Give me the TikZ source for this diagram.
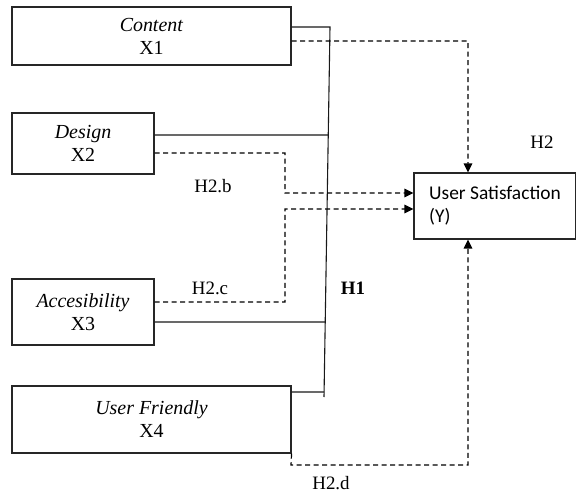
\documentclass[tikz,border=0pt]{standalone}
\usepackage{fontspec}
\setmainfont{Liberation Serif}
\newfontfamily\calib{Carlito}
\usetikzlibrary{arrows.meta,calc}
\begin{document}
\begin{tikzpicture}[x=1bp,y=-1bp,
  boxnode/.style={draw=black!85,line width=1.1bp,inner sep=0pt,align=center,font=\fontsize{20}{23}\selectfont},
  solidline/.style={draw=black!90,line width=1.1bp},
  dashline/.style={draw=black,line width=1.2bp,dash pattern=on 5bp off 3.5bp},
  arr/.style={-{Triangle[length=9bp,width=8.5bp]}},
  lbl/.style={font=\fontsize{19}{22}\selectfont,inner sep=0pt}]
\useasboundingbox (0,0) rectangle (576,495);
\node[boxnode,minimum width=279bp,minimum height=58bp] (content) at (151.5,36) {\textit{Content}\\X1};
\node[boxnode,minimum width=142bp,minimum height=61bp] (design) at (83,143.5) {\textit{Design}\\X2};
\node[boxnode,minimum width=142bp,minimum height=66bp] (acc) at (83,312) {\textit{Accesibility}\\X3};
\node[boxnode,minimum width=279bp,minimum height=67bp] (uf) at (151.5,419.5) {\textit{User Friendly}\\X4};
\node[boxnode,align=left,minimum width=162bp,minimum height=66bp,font=\calib\fontsize{19.5}{23}\selectfont] (us) at (495,206) {User Satisfaction\\(Y)\hspace*{3.2em}};
% bus line
\coordinate (bt) at (330,27);
\coordinate (bb) at (324,397);
\coordinate (b2) at (328.2,135);
\coordinate (b3) at (325.2,322);
\coordinate (b4) at (324.1,392);
\draw[solidline] ([yshift=9bp]content.east) -- (bt) -- (bb);
\draw[solidline] ([yshift=8.5bp]design.east) -- (b2);
\draw[solidline] ([yshift=-10bp]acc.east) -- (b3);
\draw[solidline] ([yshift=27.5bp]uf.east) -- (b4);
% dashed arrows
\coordinate (d1) at (468,41);
\draw[dashline,arr] ([yshift=-5bp]content.east) -- (d1) -- ([xshift=-27bp]us.north);
\coordinate (d2a) at (285,153);
\coordinate (d2b) at (285,193);
\draw[dashline,arr] ([yshift=-9.5bp]design.east) -- (d2a) -- (d2b) -- ([yshift=13bp]us.west);
\coordinate (d3a) at (285,302);
\coordinate (d3b) at (285,209);
\draw[dashline,arr] ([yshift=10bp]acc.east) -- (d3a) -- (d3b) -- ([yshift=-3bp]us.west);
\coordinate (d4a) at (291,465);
\coordinate (d4b) at (468,465);
\draw[dashline,arr] (uf.south east) -- (d4a) -- (d4b) -- ([xshift=-27bp]us.south);
% labels
\node[lbl] (h2) at (542,142) {H2};
\node[lbl] (h2b) at (213,186) {H2.b};
\node[lbl] (h2c) at (210,288) {H2.c};
\node[lbl,font=\bfseries\fontsize{19}{22}\selectfont] (h1) at (353,288) {H1};
\node[lbl] (h2d) at (331,483) {H2.d};
\end{tikzpicture}
\end{document}
